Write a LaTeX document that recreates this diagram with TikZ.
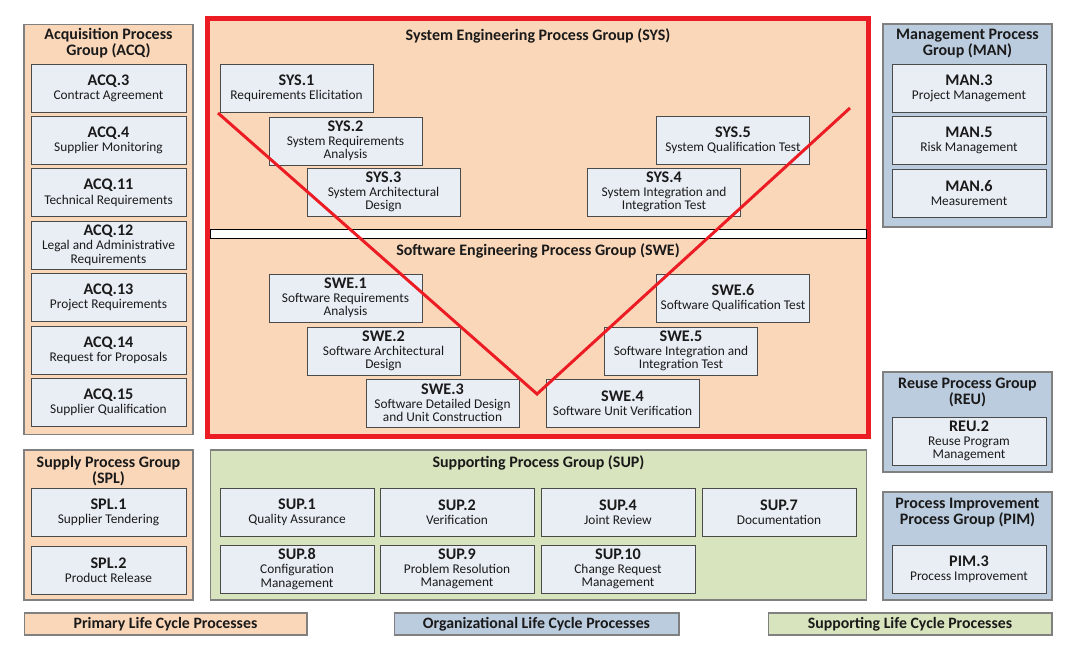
\documentclass[tikz,border=0pt]{standalone}
\usepackage{fontspec}
\setmainfont{Carlito}
\usepackage{tikz}

\definecolor{primfill}{HTML}{FBD7B9}
\definecolor{orgfill}{HTML}{BCCCDF}
\definecolor{supfill}{HTML}{D8E4BD}
\definecolor{boxfill}{HTML}{E9EEF5}
\definecolor{boxline}{HTML}{4A4A4A}
\definecolor{grpline}{HTML}{808080}
\definecolor{txtc}{HTML}{1A1A1A}
\definecolor{vred}{HTML}{EC1C24}

\newcommand{\codefont}{\fontsize{9.2}{9.2}\selectfont\bfseries}
\newcommand{\proc}[2]{{\codefont #1}\\[0.5pt]#2}

\begin{document}
\begin{tikzpicture}[x=0.02cm, y=-0.02cm,
    grp/.style={draw=grpline, line width=0.6pt, inner sep=0pt},
    prim/.style={grp, fill=primfill},
    org/.style={grp, fill=orgfill},
    supp/.style={grp, fill=supfill},
    proc/.style={draw=boxline, line width=0.55pt, fill=boxfill, inner sep=0pt,
        minimum height=0.96cm, align=center, text=txtc,
        font=\fontsize{7.6}{7.5}\selectfont},
    title/.style={align=center, text=txtc, inner sep=0pt,
        font=\fontsize{9.1}{9}\selectfont\bfseries},
    legend/.style={grp, minimum height=0.44cm, text=txtc,
        font=\fontsize{9}{9}\selectfont\bfseries}]

\useasboundingbox (0,0) rectangle (1069,655);

% acquisition
\node[prim, minimum width=3.38cm, minimum height=8.22cm] (acq) at (108.5,229.5) {};
\node[title] (acqt) at (108.5,43.5) {Acquisition Process\\Group (ACQ)};
\node[proc, minimum width=3.1cm] (acq3) at (108.5,88) {\proc{ACQ.3}{Contract Agreement}};
\node[proc, minimum width=3.1cm] (acq4) at (108.5,140.4) {\proc{ACQ.4}{Supplier Monitoring}};
\node[proc, minimum width=3.1cm] (acq11) at (108.5,192.8) {\proc{ACQ.11}{Technical Requirements}};
\node[proc, minimum width=3.1cm] (acq12) at (108.5,245.2) {\proc{ACQ.12}{Legal and Administrative\\Requirements}};
\node[proc, minimum width=3.1cm] (acq13) at (108.5,297.6) {\proc{ACQ.13}{Project Requirements}};
\node[proc, minimum width=3.1cm] (acq14) at (108.5,350) {\proc{ACQ.14}{Request for Proposals}};
\node[proc, minimum width=3.1cm] (acq15) at (108.5,402.4) {\proc{ACQ.15}{Supplier Qualification}};

% supply
\node[prim, minimum width=3.38cm, minimum height=3cm] (spl) at (108.5,525) {};
\node[title] (splt) at (108.5,471) {Supply Process Group\\(SPL)};
\node[proc, minimum width=3.1cm] (spl1) at (108.5,512.5) {\proc{SPL.1}{Supplier Tendering}};
\node[proc, minimum width=3.1cm] (spl2) at (108.5,570) {\proc{SPL.2}{Product Release}};

% system and software engineering
\node[fill=primfill, draw=vred, line width=2.8pt, minimum width=13.22cm, minimum height=8.36cm] (eng) at (538,227.5) {};
\draw[fill=white, line width=0.5pt] (210,229) rectangle (866,238);
\node[title] (syst) at (538,36) {System Engineering Process Group (SYS)};
\node[title] (swet) at (538,251) {Software Engineering Process Group (SWE)};

\node[proc, minimum width=3.06cm] (sys1) at (296.5,88.5) {\proc{SYS.1}{Requirements Elicitation}};
\node[proc, minimum width=3.06cm] (sys2) at (345.5,141) {\proc{SYS.2}{System Requirements\\Analysis}};
\node[proc, minimum width=3.06cm] (sys3) at (383.5,192) {\proc{SYS.3}{System Architectural\\Design}};
\node[proc, minimum width=3.06cm] (sys4) at (664,192) {\proc{SYS.4}{System Integration and\\Integration Test}};
\node[proc, minimum width=3.06cm] (sys5) at (733,140.5) {\proc{SYS.5}{System Qualification Test}};

\node[proc, minimum width=3.06cm] (swe1) at (345.5,298) {\proc{SWE.1}{Software Requirements\\Analysis}};
\node[proc, minimum width=3.06cm] (swe2) at (383.5,351) {\proc{SWE.2}{Software Architectural\\Design}};
\node[proc, minimum width=3.06cm] (swe3) at (442.5,403) {\proc{SWE.3}{Software Detailed Design\\and Unit Construction}};
\node[proc, minimum width=3.06cm] (swe4) at (622.5,403) {\proc{SWE.4}{Software Unit Verification}};
\node[proc, minimum width=3.06cm] (swe5) at (681,351) {\proc{SWE.5}{Software Integration and\\Integration Test}};
\node[proc, minimum width=3.06cm] (swe6) at (733,298) {\proc{SWE.6}{Software Qualification Test}};

% the V
\coordinate (vleft) at (218,113);
\coordinate (vbottom) at (537,394);
\coordinate (vright) at (850,108);
\draw[vred, line width=1.7pt] (vleft) -- (vbottom) -- (vright);

% supporting
\node[supp, minimum width=13.14cm, minimum height=3cm] (sup) at (538.5,525) {};
\node[title] (supt) at (538.5,463) {Supporting Process Group (SUP)};
\node[proc, minimum width=3.08cm] (sup1) at (297,512) {\proc{SUP.1}{Quality Assurance}};
\node[proc, minimum width=3.08cm] (sup2) at (457,512) {\proc{SUP.2}{Verification}};
\node[proc, minimum width=3.08cm] (sup4) at (618,512) {\proc{SUP.4}{Joint Review}};
\node[proc, minimum width=3.08cm] (sup7) at (779,512) {\proc{SUP.7}{Documentation}};
\node[proc, minimum width=3.08cm] (sup8) at (297,569) {\proc{SUP.8}{Configuration\\Management}};
\node[proc, minimum width=3.08cm] (sup9) at (457,569) {\proc{SUP.9}{Problem Resolution\\Management}};
\node[proc, minimum width=3.08cm] (sup10) at (618,569) {\proc{SUP.10}{Change Request\\Management}};

% management
\node[org, minimum width=3.38cm, minimum height=4.06cm] (man) at (967.5,125.5) {};
\node[title] (mant) at (967.5,43.5) {Management Process\\Group (MAN)};
\node[proc, minimum width=3.08cm] (man3) at (969,88.5) {\proc{MAN.3}{Project Management}};
\node[proc, minimum width=3.08cm] (man5) at (969,140.5) {\proc{MAN.5}{Risk Management}};
\node[proc, minimum width=3.08cm] (man6) at (969,193) {\proc{MAN.6}{Measurement}};

% reuse
\node[org, minimum width=3.38cm, minimum height=2cm] (reu) at (967.5,422) {};
\node[title] (reut) at (967.5,392.5) {Reuse Process Group\\(REU)};
\node[proc, minimum width=3.08cm] (reu2) at (969,441) {\proc{REU.2}{Reuse Program\\Management}};

% process improvement
\node[org, minimum width=3.38cm, minimum height=2.16cm] (pim) at (967.5,546) {};
\node[title] (pimt) at (967.5,512.5) {Process Improvement\\Process Group (PIM)};
\node[proc, minimum width=3.08cm] (pim3) at (969,569) {\proc{PIM.3}{Process Improvement}};

% legend
\node[legend, fill=primfill, minimum width=5.66cm] (lprim) at (165.5,624) {Primary Life Cycle Processes};
\node[legend, fill=orgfill, minimum width=5.7cm] (lorg) at (536.5,624) {Organizational Life Cycle Processes};
\node[legend, fill=supfill, minimum width=5.68cm] (lsup) at (910,624) {Supporting Life Cycle Processes};
\end{tikzpicture}
\end{document}
